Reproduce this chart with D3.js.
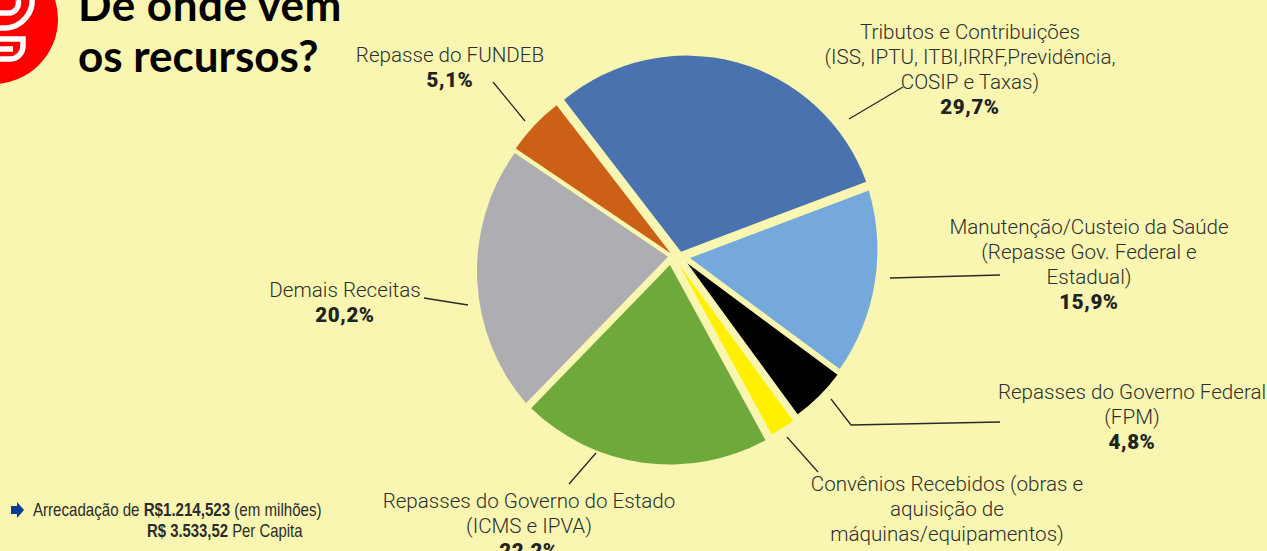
<!DOCTYPE html>
<html><head><meta charset="utf-8">
<script src="https://cdn.jsdelivr.net/npm/d3@7"></script>
<style>html,body{margin:0;padding:0;background:#f8f6b0;overflow:hidden}svg{display:block}</style>
</head><body><svg id="c" width="1267" height="551"></svg>
<script>
const categories=["Tributos e Contribuições","Manutenção/Custeio da Saúde","Repasses do Governo Federal","Convênios Recebidos","Repasses do Governo do Estado","Demais Receitas","Repasse do FUNDEB"];
// slice sizes as drawn in the picture (the printed 22,2 / 20,2 labels sit on the opposite slices)
const values=[29.7,15.9,4.8,2.1,20.2,22.2,5.1];
const colors=["#4a72ae","#75a9db","#000000","#fff000","#6fa83b","#aeadb1","#cb6016"];
const pctLabels=["29,7%","15,9%","4,8%","","22,2%","20,2%","5,1%"];
const apexX=[681,690,687.3,679.3,670,668,670.7];
const apexY=[251.7,258,263.3,265,265,256.7,253.3];
const arcShiftX=[5.4,-20.6,0,0,0,12.2,0];
const arcShiftY=[-4.9,-8.3,0,0,0,14.2,0];
const arcRadius=[191.2,208,187,193,199.5,203.2,187];
const textLines=[["Tributos e Contribuições","(ISS, IPTU, ITBI,IRRF,Previdência,","COSIP e Taxas)"],["Manutenção/Custeio da Saúde","(Repasse Gov. Federal e","Estadual)"],["Repasses do Governo Federal","(FPM)"],["Convênios Recebidos (obras e","aquisição de","máquinas/equipamentos)"],["Repasses do Governo do Estado","(ICMS e IPVA)"],["Demais Receitas"],["Repasse do FUNDEB"]];
const labelX=[970,1089,1132,947,529,345,450];
const labelY=[39,234,399,491,508,297,62];
const leaders=[[[849,119],[903,87]],[[890,278],[1000,275]],[[831,399],[851,425],[1000,422]],[[787,437],[818,472]],[[569,484],[596,453]],[[424,298],[468,305]],[[493,82],[525,121]]];
const svg=d3.select("#c");
const pie=d3.pie().sort(null).value(d=>d).startAngle(-37.6*Math.PI/180).endAngle(322.4*Math.PI/180);
// where a ray from the slice's apex meets its (slightly off-centre) outer arc
function rim(i,a){
  const dx=Math.sin(a),dy=-Math.cos(a),sx=arcShiftX[i],sy=arcShiftY[i],R=arcRadius[i];
  const b=dx*sx+dy*sy,t=b+Math.sqrt(b*b-(sx*sx+sy*sy-R*R));
  return [apexX[i]+t*dx,apexY[i]+t*dy];
}
svg.append("g").selectAll("path").data(pie(values)).join("path")
  .attr("d",(d,i)=>{const p=rim(i,d.startAngle),q=rim(i,d.endAngle),R=arcRadius[i];
    return `M${apexX[i]},${apexY[i]}L${p[0]},${p[1]}A${R},${R} 0 0 1 ${q[0]},${q[1]}Z`;})
  .attr("fill",(d,i)=>colors[i]);
svg.append("g").selectAll("path").data(leaders).join("path").attr("d",d3.line())
  .attr("fill","none").attr("stroke","#2a2a2a").attr("stroke-width",1.3);
const lab=svg.append("g").attr("font-family","Roboto,'Liberation Sans',sans-serif").attr("text-anchor","middle");
textLines.forEach((ls,i)=>{
  ls.forEach((t,j)=>lab.append("text").attr("x",labelX[i]).attr("y",labelY[i]+j*25).attr("font-size",20.6).attr("font-weight",300).attr("fill","#2e2e2e").text(t));
  if(pctLabels[i])lab.append("text").attr("x",labelX[i]).attr("y",labelY[i]+ls.length*25).attr("font-size",20.5).attr("font-weight",900).attr("letter-spacing",0.6).attr("fill","#222").text(pctLabels[i]);
});
const titleLines=["De onde vem","os recursos?"];
svg.append("g").attr("font-family","Lato,sans-serif").attr("font-weight",700).attr("font-size",44).attr("fill","#000")
 .selectAll("text").data(titleLines).join("text").attr("x",78).attr("y",(d,i)=>21+i*51).attr("letter-spacing",(d,i)=>i?0:0.5).text(d=>d);
const ic=svg.append("g");
ic.append("circle").attr("cx",-7).attr("cy",19).attr("r",65).attr("fill","#ff0000");
ic.append("g").attr("fill","none").attr("stroke","#fff").attr("stroke-width",5.5).selectAll("path")
 .data(["M0,28 H6 A28,28 0 0 0 32,-3","M0,13 H8 A10,10 0 0 0 18,0","M0,39 H23 V46 A13,13 0 0 1 10,59 H0","M0,49 H13"]).join("path").attr("d",d=>d);
const note=svg.append("g").attr("font-family","'Liberation Sans',sans-serif").attr("font-size",17.5).attr("fill","#2c2c2c");
note.append("path").attr("d",d3.line()([[11,506],[17,506],[17,502],[24,510],[17,518],[17,514],[11,514]])).attr("fill","#0b3b91");
const n1=note.append("text").attr("transform","translate(33,516) scale(0.863,1)");
n1.append("tspan").text("Arrecadação de ");n1.append("tspan").attr("font-weight","bold").text("R$1.214,523");n1.append("tspan").text(" (em milhões)");
const n2=note.append("text").attr("transform","translate(147,537) scale(0.85,1)");
n2.append("tspan").attr("font-weight","bold").text("R$ 3.533,52");n2.append("tspan").text(" Per Capita");
</script></body></html>
